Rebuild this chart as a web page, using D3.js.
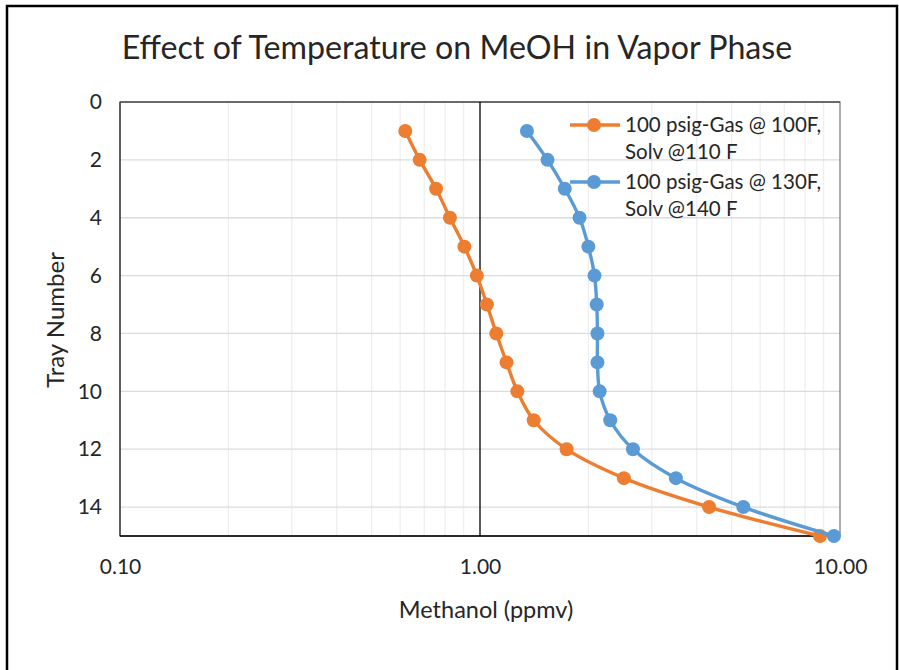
<!DOCTYPE html>
<html><head><meta charset="utf-8">
<script src="https://cdn.jsdelivr.net/npm/d3@7"></script>
<style>body{margin:0;background:#fff}svg{display:block}text{font-family:Lato,"Open Sans",sans-serif;fill:#262626}</style>
</head><body><svg id="c" width="899" height="670"></svg>
<script>
const trays = [1,2,3,4,5,6,7,8,9,10,11,12,13,14,15];
const seriesNames = ["100 psig-Gas @ 100F, Solv @110 F", "100 psig-Gas @ 130F, Solv @140 F"];
const legendLines = [["100 psig-Gas @ 100F,", "Solv @110 F"], ["100 psig-Gas @ 130F,", "Solv @140 F"]];
const meoh100F = [0.62,0.68,0.755,0.825,0.905,0.98,1.045,1.11,1.185,1.27,1.41,1.74,2.51,4.33,8.8];
const meoh130F = [1.35,1.54,1.72,1.89,2.0,2.08,2.11,2.12,2.12,2.15,2.30,2.66,3.50,5.39,9.62];
const colors = ["#ED7D31","#5B9BD5"];
const xTicks = [0.1,1,10];
const yTicks = [0,2,4,6,8,10,12,14];
const title = "Effect of Temperature on MeOH in Vapor Phase";
const xTitle = "Methanol (ppmv)";
const yTitle = "Tray Number";

const svg = d3.select("#c");
const L=120,R=840,T=102,B=536;
const x = d3.scaleLog().domain([0.1,10]).range([L,R]);
const y = d3.scaleLinear().domain([0,15]).range([T,B]);
const FONT = "Lato,'Open Sans',sans-serif";

// outer border
svg.append("path").attr("d","M7,672 V6 H897 V672").attr("fill","none").attr("stroke","#000").attr("stroke-width",2.5);

// minor vertical gridlines
const minor = [];
for (const dec of [0.1,1]) for (let k=2;k<=9;k++) minor.push(dec*k);
svg.append("g").selectAll("line").data(minor).join("line")
  .attr("x1",d=>x(d)).attr("x2",d=>x(d)).attr("y1",T).attr("y2",B)
  .attr("stroke","#efefef").attr("stroke-width",1.3);
// horizontal gridlines
svg.append("g").selectAll("line").data(yTicks.filter(d=>d>0)).join("line")
  .attr("x1",L).attr("x2",R).attr("y1",d=>y(d)).attr("y2",d=>y(d))
  .attr("stroke","#dcdcdc").attr("stroke-width",1.3);

// plot border
svg.append("rect").attr("x",L).attr("y",T).attr("width",R-L).attr("height",B-T)
  .attr("fill","none").attr("stroke","#7f7f7f").attr("stroke-width",1.3);
svg.append("line").attr("x1",L).attr("x2",L).attr("y1",T).attr("y2",B).attr("stroke","#333").attr("stroke-width",1.3);
svg.append("line").attr("x1",L).attr("x2",R).attr("y1",T).attr("y2",T).attr("stroke","#555").attr("stroke-width",1.3);
svg.append("line").attr("x1",L).attr("x2",R).attr("y1",B).attr("y2",B).attr("stroke","#000").attr("stroke-width",1.5);
// vertical axis line at x=1
svg.append("line").attr("x1",x(1)).attr("x2",x(1)).attr("y1",T).attr("y2",B).attr("stroke","#000").attr("stroke-width",1.3);

// axes labels via d3 axes
const ax = svg.append("g").attr("transform",`translate(0,${B})`)
  .call(d3.axisBottom(x).tickValues(xTicks).tickFormat(d3.format(".2f")).tickSize(0).tickPadding(23));
ax.select(".domain").remove();
ax.selectAll("text").style("font-size","21px").attr("fill","#262626").style("font-family",FONT);
const ay = svg.append("g").attr("transform",`translate(${L},0)`)
  .call(d3.axisLeft(y).tickValues(yTicks).tickSize(0).tickPadding(18));
ay.select(".domain").remove();
ay.selectAll("text").style("font-size","21px").attr("fill","#262626").style("font-family",FONT);

// titles
svg.append("text").attr("x",457).attr("y",59).attr("text-anchor","middle").style("font-size","32.2px").text(title);
svg.append("text").attr("x",486).attr("y",618).attr("text-anchor","middle").style("font-size","23.5px").text(xTitle);
svg.append("text").attr("transform","translate(64,320) rotate(-90)").attr("text-anchor","middle").style("font-size","24px").text(yTitle);

// series
const data = [meoh100F, meoh130F];
const line = d3.line().x(d=>x(d[0])).y(d=>y(d[1])).curve(d3.curveCatmullRom.alpha(0.5));
data.forEach((vals,i)=>{
  const pts = vals.map((v,j)=>[v,trays[j]]);
  const g = svg.append("g");
  g.append("path").attr("d",line(pts)).attr("fill","none").attr("stroke",colors[i]).attr("stroke-width",3.4);
  g.selectAll("circle").data(pts).join("circle").attr("cx",d=>x(d[0])).attr("cy",d=>y(d[1])).attr("r",7).attr("fill",colors[i]);
});

// legend
legendLines.forEach((ls,i)=>{
  const ly = 125 + i*57;
  const g = svg.append("g");
  g.append("line").attr("x1",570).attr("x2",620).attr("y1",ly).attr("y2",ly).attr("stroke",colors[i]).attr("stroke-width",3.4);
  g.append("circle").attr("cx",594).attr("cy",ly).attr("r",7).attr("fill",colors[i]);
  ls.forEach((t,k)=>g.append("text").attr("x",625).attr("y",ly+7+k*27).style("font-size","20.5px").text(t));
});
</script></body></html>
